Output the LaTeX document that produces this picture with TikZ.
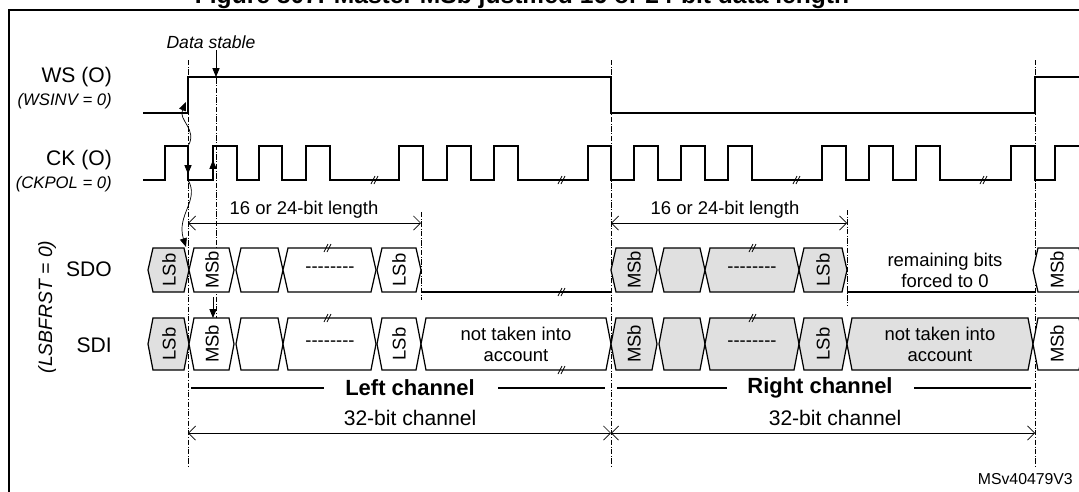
\documentclass[tikz,border=0pt]{standalone}
\usepackage{fontspec}
\setmainfont{Liberation Sans}
\usetikzlibrary{arrows.meta,decorations.pathmorphing}
\begin{document}
\begin{tikzpicture}[x=0.02cm,y=-0.02cm,
  sig/.style={line width=0.9pt,line join=miter},
  dd/.style={densely dashdotted,line width=0.4pt},
  meas/.style={line width=0.4pt,{Straight Barb[length=4pt]}-{Straight Barb[length=4pt]}},
  lbl/.style={font=\fontsize{12}{14}\selectfont,anchor=east},
  ilbl/.style={font=\fontsize{9.5}{12}\selectfont\itshape,anchor=east},
  txt/.style={font=\fontsize{10.5}{12}\selectfont},
  bt/.style={font=\fontsize{10.5}{12}\selectfont,rotate=90},
  tip/.style={-{Triangle[length=5pt,width=4pt]},line width=0.5pt},
  brk/.style={line width=0.4pt}]
\definecolor{gr}{gray}{0.88}
\useasboundingbox (0,0) rectangle (1079,491);
\begin{scope}
\clip (0,0) rectangle (1079,491);
\node[font=\fontsize{14}{16}\selectfont\bfseries,anchor=base] (title) at (522,3) {Figure 807. Master MSb justified 16 or 24-bit data length};
\fill[white] (0,10) rectangle (1079,491);
\draw[line width=1pt] (9,500) -- (9,10) -- (1090,10);
\end{scope}
% labels
\node[lbl] (ws) at (118,77) {WS (O)};
\node[ilbl] (wsinv) at (118,101) {(WSINV = 0)};
\node[lbl] (ck) at (118,160) {CK (O)};
\node[ilbl] (ckpol) at (118,184) {(CKPOL = 0)};
\node[lbl] (sdo) at (118,269) {SDO};
\node[lbl] (sdi) at (118,345) {SDI};
\node[font=\fontsize{11}{12}\selectfont\itshape,rotate=90] (lsbf) at (47,307) {(LSBFRST = 0)};
% vertical dash-dot lines
\draw[dd] (188,60) -- (188,467);
\draw[dd] (216,50) -- (216,345);
\draw[dd] (611,60) -- (611,467);
\draw[dd] (1035,60) -- (1035,467);
\draw[dd] (421,212) -- (421,300);
\draw[dd] (847,210) -- (847,305);
% WS
\draw[sig] (143,113) -- (188,113) -- (188,77) -- (611,77) -- (611,113) -- (1035,113) -- (1035,77) -- (1079,77);
% CK
\def\hi{146}\def\lo{180}
\draw[sig] (143,\lo) -- (165,\lo) -- (165,\hi) -- (188,\hi) -- (188,\lo) -- (213,\lo) -- (213,\hi) -- (237,\hi) -- (237,\lo)
 -- (259,\lo) -- (259,\hi) -- (282,\hi) -- (282,\lo) -- (306,\lo) -- (306,\hi) -- (330,\hi) -- (330,\lo)
 -- (399,\lo) -- (399,\hi) -- (423,\hi) -- (423,\lo) -- (447,\lo) -- (447,\hi) -- (471,\hi) -- (471,\lo)
 -- (494,\lo) -- (494,\hi) -- (518,\hi) -- (518,\lo) -- (588,\lo) -- (588,\hi) -- (611,\hi) -- (611,\lo)
 -- (634,\lo) -- (634,\hi) -- (658,\hi) -- (658,\lo) -- (681,\lo) -- (681,\hi) -- (705,\hi) -- (705,\lo)
 -- (728,\lo) -- (728,\hi) -- (752,\hi) -- (752,\lo) -- (822,\lo) -- (822,\hi) -- (846,\hi) -- (846,\lo)
 -- (869,\lo) -- (869,\hi) -- (893,\hi) -- (893,\lo) -- (916,\lo) -- (916,\hi) -- (940,\hi) -- (940,\lo)
 -- (1011,\lo) -- (1011,\hi) -- (1035,\hi) -- (1035,\lo) -- (1055,\lo) -- (1055,\hi) -- (1079,\hi);
\foreach \x in {374,561,796,983} \draw[brk] (\x-3,\lo+4) -- (\x+1,\lo-4) (\x,\lo+4) -- (\x+4,\lo-4);
% data boxes
\newcommand{\bx}[5]{\draw[line width=0.7pt,fill=#5] (#1,{(#3+#4)/2}) -- (#1+5,#3) -- (#2-5,#3) -- (#2,{(#3+#4)/2}) -- (#2-5,#4) -- (#1+5,#4) -- cycle;}
\newcommand{\brkm}[3]{\draw[brk] (#1-3,#2+4) -- (#1+1,#2-4) (#1,#2+4) -- (#1+4,#2-4);}
\def\ot{248}\def\ob{292}\def\it{318}\def\ib{370}
% SDO
\bx{148}{189}{\ot}{\ob}{gr}\bx{189}{234}{\ot}{\ob}{white}\bx{236}{283}{\ot}{\ob}{white}\bx{283}{376}{\ot}{\ob}{white}\bx{377}{421}{\ot}{\ob}{white}
\draw[sig] (421,\ob) -- (611,\ob);
\bx{611}{657}{\ot}{\ob}{gr}\bx{659}{705}{\ot}{\ob}{gr}\bx{705}{799}{\ot}{\ob}{gr}\bx{799}{847}{\ot}{\ob}{gr}
\draw[sig] (847,\ob) -- (1035,\ob);
\bx{1033}{1084}{\ot}{\ob}{white}
% SDI
\bx{148}{189}{\it}{\ib}{gr}\bx{189}{234}{\it}{\ib}{white}\bx{236}{283}{\it}{\ib}{white}\bx{283}{376}{\it}{\ib}{white}\bx{377}{421}{\it}{\ib}{white}
\bx{421}{611}{\it}{\ib}{white}
\bx{611}{657}{\it}{\ib}{gr}\bx{659}{705}{\it}{\ib}{gr}\bx{705}{799}{\it}{\ib}{gr}\bx{799}{847}{\it}{\ib}{gr}\bx{847}{1033}{\it}{\ib}{gr}
\bx{1033}{1084}{\it}{\ib}{white}
% break marks
\foreach \x in {327,752} {\brkm{\x}{\ot}\brkm{\x}{\ob}\brkm{\x}{\it}\brkm{\x}{\ib}}
\brkm{561}{\ob}\brkm{945}{\ob}\brkm{561}{\ib}\brkm{933}{\ib}
% box texts
\foreach \y/\s in {270/o,344/i} {
 \node[bt] (l1\s) at (169,\y) {LSb};
 \node[bt] (m1\s) at (212,\y) {MSb};
 \node[txt] (d1\s) at (330,\y) {-{}-{}-{}-{}-{}-{}-{}-};
 \node[bt] (l2\s) at (399,\y) {LSb};
 \node[bt] (m2\s) at (634,\y) {MSb};
 \node[txt] (d2\s) at (752,\y) {-{}-{}-{}-{}-{}-{}-{}-};
 \node[bt] (l3\s) at (823,\y) {LSb};
 \node[bt] (m3\s) at (1057,\y) {MSb};
}
\node[txt,align=center] (nt1) at (516,344) {not taken into\\account};
\node[txt,align=center] (nt2) at (940,344) {not taken into\\account};
\node[txt,align=center] (rem) at (945,270) {remaining bits\\forced to 0};
% measure arrows
\node[txt] (m16a) at (304,210) {16 or 24-bit length};
\draw[meas] (188,223) -- (421,223);
\node[txt] (m16b) at (725,210) {16 or 24-bit length};
\draw[meas] (611,223) -- (847,223);
\node[font=\fontsize{12}{14}\selectfont] (c32a) at (410,418) {32-bit channel};
\draw[meas] (188,433) -- (611,433);
\node[font=\fontsize{12}{14}\selectfont] (c32b) at (835,418) {32-bit channel};
\draw[meas] (611,433) -- (1035,433);
% channels
\node[font=\fontsize{12.5}{14}\selectfont\bfseries] (lch) at (410,388) {Left channel};
\draw[line width=1.3pt] (191,388) -- (324,388) (498,388) -- (605,388);
\node[font=\fontsize{12.5}{14}\selectfont\bfseries] (rch) at (820,388) {Right channel};
\draw[line width=1.3pt] (617,388) -- (727,388) (914,388) -- (1031,388);
% data stable
\node[font=\fontsize{10}{12}\selectfont\itshape] (ds) at (211,42) {Data stable};
\draw[tip] (216,52) -- (216,77);
\draw[tip] (213,180) -- (213,160);
\draw[tip] (188,150) -- (188,174);
\draw[tip] (213,297) -- (213,318);
\draw[line width=0.4pt,-{Triangle[length=5pt,width=4pt]}] (188,146) .. controls (198,130) and (178,120) .. (186,102);
\draw[line width=0.4pt,-{Triangle[length=5pt,width=4pt]}] (188,180) .. controls (200,200) and (176,215) .. (186,247);
\node[font=\fontsize{9}{10}\selectfont,anchor=south east] (id) at (1079,491) {MSv40479V3};
\end{tikzpicture}
\end{document}
